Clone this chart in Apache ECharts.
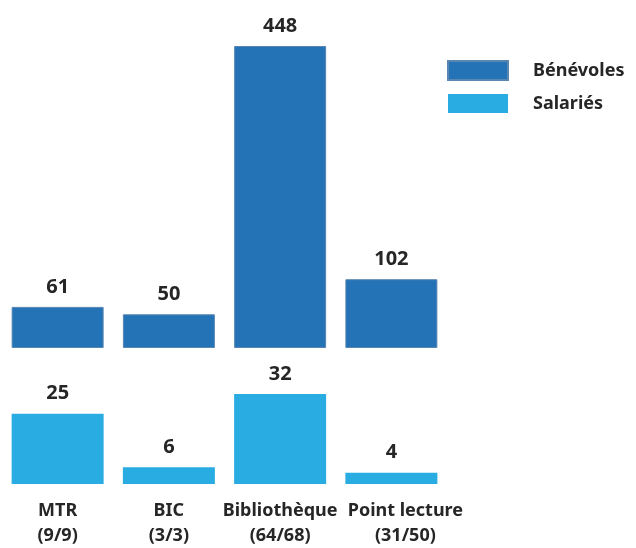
<!DOCTYPE html>
<html>
<head>
<meta charset="utf-8">
<script src="https://cdn.jsdelivr.net/npm/echarts@6/dist/echarts.min.js"></script>
<style>
  html, body { margin: 0; padding: 0; background: #fff; }
  #main { width: 636px; height: 548px; }
</style>
</head>
<body>
<div id="main"></div>
<script>
// donnees
var names = ['MTR', 'BIC', 'Bibliothèque', 'Point lecture'];
var ratios = ['(9/9)', '(3/3)', '(64/68)', '(31/50)'];
var benevoles = [61, 50, 448, 102];
var salaries = [25, 6, 32, 4];

var categories = names.map(function (n, i) { return n + '\n' + ratios[i]; });

var myChart = echarts.init(document.getElementById('main'));

var font = 'Noto Sans';
var dark = '#262626';

var option = {
    animation: false,
    textStyle: { fontFamily: font },
    legend: {
        orient: 'vertical',
        left: 442,
        top: 55,
        icon: 'rect',
        itemWidth: 60,
        itemHeight: 19,
        itemGap: 13,
        textStyle: {
            fontFamily: font,
            fontWeight: 'bold',
            fontSize: 18,
            color: dark,
            padding: [0, 0, 0, 20]
        },
        data: ['Bénévoles', 'Salariés']
    },
    grid: [
        { left: 2, width: 445, top: 46, height: 302 },
        { left: 2, width: 445, top: 394, height: 91 }
    ],
    xAxis: [{
        gridIndex: 0,
        type: 'category',
        data: categories,
        axisLine: { show: false },
        axisTick: { show: false },
        axisLabel: { show: false }
    }, {
        gridIndex: 1,
        type: 'category',
        data: categories.map(function (c, i) {
            // le dernier libelle est decale vers la droite
            return i === 3 ? { value: c, textStyle: { padding: [0, 0, 0, 28] } } : c;
        }),
        axisLine: { show: false },
        axisTick: { show: false },
        axisLabel: {
            interval: 0,
            hideOverlap: false,
            margin: 14,
            fontFamily: font,
            fontWeight: 'bold',
            fontSize: 18,
            lineHeight: 25,
            color: dark
        }
    }],
    yAxis: [{
        gridIndex: 0,
        type: 'value',
        min: 0,
        max: 448,
        show: false,
        splitLine: { show: false }
    }, {
        gridIndex: 1,
        type: 'value',
        min: 0,
        max: 32,
        show: false,
        splitLine: { show: false }
    }],
    series: [{
        name: 'Bénévoles',
        type: 'bar',
        xAxisIndex: 0,
        yAxisIndex: 0,
        barWidth: 92,
        itemStyle: { color: '#2373b6', borderColor: '#5a86b0', borderWidth: 1 },
        label: {
            show: true,
            position: 'top',
            distance: 10,
            fontFamily: font,
            fontWeight: 'bold',
            fontSize: 20,
            color: dark
        },
        data: benevoles
    }, {
        name: 'Salariés',
        type: 'bar',
        xAxisIndex: 1,
        yAxisIndex: 1,
        barWidth: 92,
        itemStyle: { color: '#29ace2' },
        label: {
            show: true,
            position: 'top',
            distance: 10,
            fontFamily: font,
            fontWeight: 'bold',
            fontSize: 20,
            color: dark
        },
        data: salaries
    }]
};

myChart.setOption(option);
</script>
</body>
</html>
